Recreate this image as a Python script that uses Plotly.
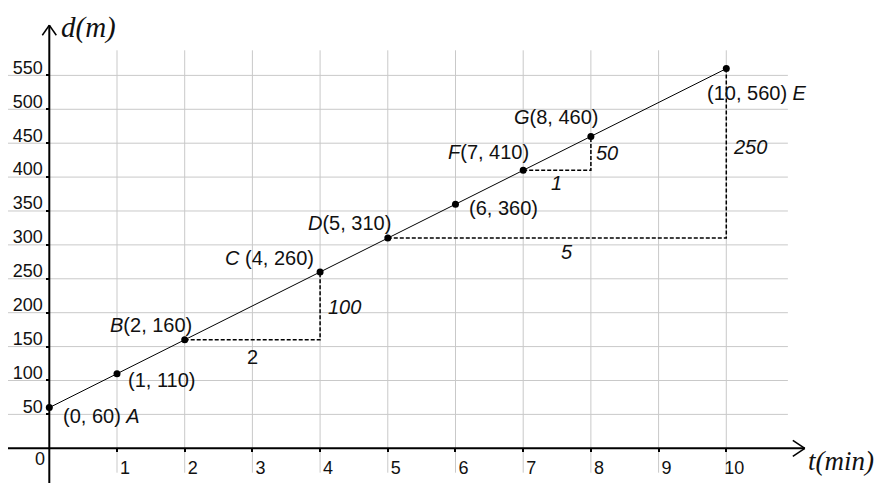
import plotly.graph_objects as go

# data
t_vals = [0, 1, 2, 4, 5, 6, 7, 8, 10]
d_vals = [60, 110, 160, 260, 310, 360, 410, 460, 560]
point_names = ['A', '', 'B', 'C', 'D', '', 'F', 'G', 'E']

# slope triangles: index of start point and end point in the lists above
triangles = [(2, 3), (4, 8), (6, 7)]

x_ticks = list(range(1, 11))
y_ticks = list(range(50, 600, 50))

# the page puts the figure 8px in from the top-left corner
W, H = 874, 475
# pixel scale (px per data unit) and ranges
PX_X = 67.7
PX_Y = 0.678
X_RANGE = [-0.610, 12.30]
Y_RANGE = [-51.2, 649.4]

FONT = 'Liberation Sans, Arial, sans-serif'
SERIF = 'Liberation Serif, Times New Roman, serif'
LABEL_SIZE = 20

# label placement per point: (xanchor, xshift, yshift)
label_pos = [('left', 12, -8), ('left', 9, -6), ('right', 9, 15), ('right', -4, 14),
             ('right', 5, 15), ('left', 12, -4), ('right', 8, 18), ('right', 10, 19),
             ('left', -21, -24)]
# per triangle: run label (xshift, yshift, italic), rise label (xshift, yshift)
run_pos = [(0, -17, False), (10, -14, True), (-1, -13, True)]
rise_pos = [(6, -1), (5, 6), (3, 0)]

fig = go.Figure()

shapes = []
grid = dict(color='#c9c9c9', width=1)
for x in x_ticks:
    shapes.append(dict(type='line', x0=x, x1=x, y0=-36, y1=587, line=grid, layer='below'))
for y in y_ticks:
    shapes.append(dict(type='line', x0=-0.61, x1=10.91, y0=y, y1=y, line=grid, layer='below'))

# axes with open arrow heads
ax = dict(color='black', width=2)
x_tip = 11.16
y_tip = 624
shapes.append(dict(type='line', x0=-0.61, x1=x_tip, y0=0, y1=0, line=ax))
shapes.append(dict(type='line', x0=0, x1=0, y0=Y_RANGE[0], y1=y_tip, line=ax))
arm = dict(color='black', width=1.5)
for s in (1, -1):
    shapes.append(dict(type='line', x0=x_tip, y0=0, x1=x_tip - 12 / PX_X, y1=s * 8 / PX_Y, line=arm))
    shapes.append(dict(type='line', x0=0, y0=y_tip, x1=s * 7 / PX_X, y1=y_tip - 10 / PX_Y, line=arm))

# slope triangles (dashed)
for i, j in triangles:
    fig.add_trace(go.Scatter(x=[t_vals[i], t_vals[j], t_vals[j]],
                             y=[d_vals[i], d_vals[i], d_vals[j]],
                             mode='lines', line=dict(color='black', width=1.5, dash='4px,2px'),
                             hoverinfo='skip'))

fig.add_trace(go.Scatter(x=t_vals, y=d_vals, mode='lines+markers',
                         line=dict(color='black', width=1),
                         marker=dict(color='black', size=7)))

annotations = []
for k, (t, d, name) in enumerate(zip(t_vals, d_vals, point_names)):
    anchor, xs, ys = label_pos[k]
    coords = f'({t}, {d})'
    if not name:
        text = coords
    elif anchor == 'left':
        text = f'{coords} <i>{name}</i>'
    elif name == 'C':
        text = f'<i>{name}</i> {coords}'
    else:
        text = f'<i>{name}</i>{coords}'
    annotations.append(dict(x=t, y=d, text=text, showarrow=False, xanchor=anchor,
                            yanchor='middle', xshift=xs, yshift=ys,
                            font=dict(family=FONT, size=LABEL_SIZE, color='#111')))

for n, (i, j) in enumerate(triangles):
    run = t_vals[j] - t_vals[i]
    rise = d_vals[j] - d_vals[i]
    xs, ys, it = run_pos[n]
    annotations.append(dict(x=(t_vals[i] + t_vals[j]) / 2, y=d_vals[i],
                            text=f'<i>{run}</i>' if it else str(run), showarrow=False,
                            xanchor='center', yanchor='middle', xshift=xs, yshift=ys,
                            font=dict(family=FONT, size=LABEL_SIZE, color='#111')))
    xs, ys = rise_pos[n]
    annotations.append(dict(x=t_vals[j], y=(d_vals[i] + d_vals[j]) / 2,
                            text=f'<i>{rise}</i>', showarrow=False,
                            xanchor='left', yanchor='middle', xshift=xs, yshift=ys,
                            font=dict(family=FONT, size=LABEL_SIZE, color='#111')))

annotations.append(dict(x=0, y=0, text='0', showarrow=False, xanchor='center', yanchor='middle',
                        xshift=-9, yshift=-11, font=dict(family=FONT, size=18, color='#111')))
annotations.append(dict(x=51 / W, y=1 - 19 / H, xref='paper', yref='paper', text='<i>d(m)</i>',
                        showarrow=False, xanchor='left', yanchor='middle',
                        font=dict(family=SERIF, size=29, color='#111')))
annotations.append(dict(x=798 / W, y=1 - 453 / H, xref='paper', yref='paper',
                        text='<i>t(min)</i>', showarrow=False, xanchor='left', yanchor='middle',
                        font=dict(family=SERIF, size=27, color='#111')))

fig.update_layout(width=W, height=H, margin=dict(l=0, r=0, t=0, b=0),
                  plot_bgcolor='white', paper_bgcolor='white', showlegend=False,
                  shapes=shapes, annotations=annotations)
fig.update_xaxes(range=X_RANGE, showgrid=False, zeroline=False, showline=False,
                 tickvals=x_ticks, ticks='outside', ticklen=3, tickwidth=1.5, tickcolor='black',
                 anchor='free', position=-Y_RANGE[0] / (Y_RANGE[1] - Y_RANGE[0]),
                 ticklabelshift=8, tickfont=dict(family=FONT, size=18, color='#111'))
fig.update_yaxes(range=Y_RANGE, showgrid=False, zeroline=False, showline=False,
                 tickvals=y_ticks, ticks='outside', ticklen=3, tickwidth=1.5, tickcolor='black',
                 anchor='free', position=-X_RANGE[0] / (X_RANGE[1] - X_RANGE[0]),
                 ticklabelshift=-8, tickfont=dict(family=FONT, size=18, color='#111'))

fig.write_html("out.html")
